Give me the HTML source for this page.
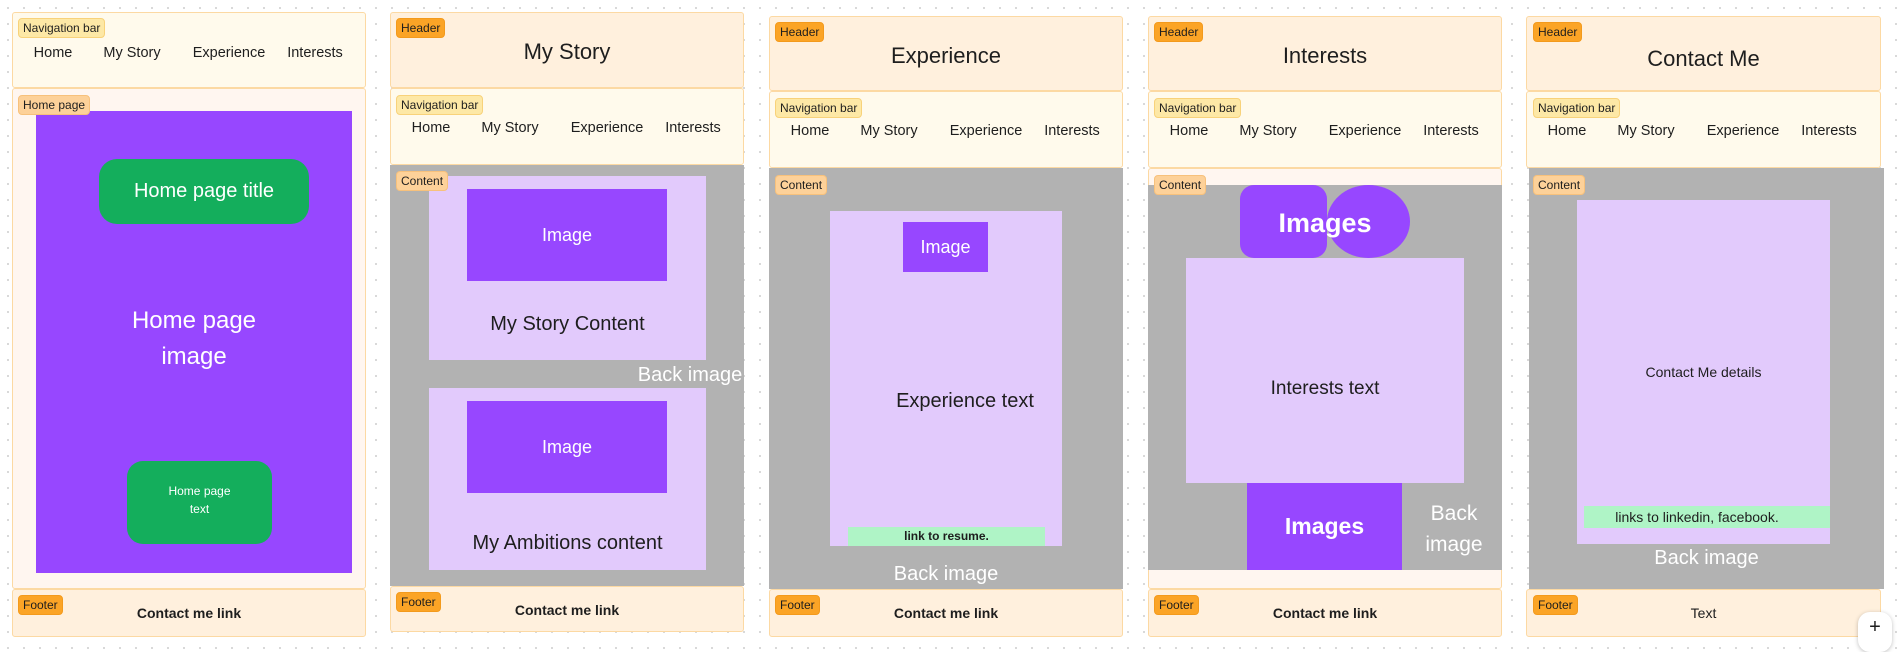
<!DOCTYPE html>
<html><head><meta charset="utf-8"><style>
*{box-sizing:border-box;margin:0;padding:0}
body{width:1899px;height:649px;position:relative;overflow:hidden;background:#fff;background-image:radial-gradient(#d6d6d6 1px,transparent 1.2px);background-size:16px 16px;font-family:"Liberation Sans",sans-serif;color:#1e1e1e}
div{position:absolute}
.sec{border:1px solid #fcd9a3;border-radius:3px}
.hdr{background:#fff0dd}
.nav{background:#fffaec}
.pg{background:#fff6f0}
.ftr{background:#fff0dd}
.tag{font-size:12px;padding:2px 4px;border-radius:4px;line-height:14px;white-space:nowrap;z-index:5}
.t1{background:#fde8a6;border:1px solid #f8d27a}
.t2{background:#fba426;border:1px solid #f39a1c}
.t3{background:#fdd199;border:1px solid #f7c17c}
.c{text-align:center;white-space:nowrap}
.gray{background:#b2b2b2}
.lav{background:#e2cafc}
.pur{background:#9747ff;color:#fff}
.grn{background:#14ae5c;color:#fff}
.mint{background:#aff4c6}
.navi{font-size:14.5px;top:0;transform:translateX(-50%);white-space:nowrap}
</style></head><body>

<!-- Column 1 -->
<div class="sec nav" style="left:12px;top:12px;width:354px;height:76px"></div>
<div class="tag t1" style="left:18px;top:18px">Navigation bar</div>
<div style="left:12px;top:45px;width:354px;height:20px">
 <div class="navi" style="left:41px">Home</div><div class="navi" style="left:120px">My Story</div><div class="navi" style="left:217px">Experience</div><div class="navi" style="left:303px">Interests</div>
</div>
<div class="sec pg" style="left:12px;top:88px;width:354px;height:501px"></div>
<div class="tag t3" style="left:18px;top:95px">Home page</div>
<div class="pur" style="left:36px;top:111px;width:316px;height:462px"></div>
<div class="grn c" style="left:99px;top:159px;width:210px;height:65px;border-radius:18px;font-size:20px;line-height:65px">Home page title</div>
<div class="c" style="left:36px;top:303px;width:316px;font-size:24px;line-height:36px;color:#fff">Home page<br>image</div>
<div class="grn c" style="left:127px;top:461px;width:145px;height:83px;border-radius:16px;font-size:12px;line-height:18px;padding-top:21px">Home page<br>text</div>
<div class="sec ftr" style="left:12px;top:589px;width:354px;height:48px"></div>
<div class="tag t2" style="left:18px;top:595px">Footer</div>
<div class="c" style="left:12px;top:605px;width:354px;font-size:14px;font-weight:bold">Contact me link</div>

<!-- Column 2 -->
<div class="sec hdr" style="left:390px;top:12px;width:354px;height:76px"></div>
<div class="tag t2" style="left:396px;top:18px">Header</div>
<div class="c" style="left:390px;top:39px;width:354px;font-size:22px">My Story</div>
<div class="sec nav" style="left:390px;top:88px;width:354px;height:77px"></div>
<div class="tag t1" style="left:396px;top:95px">Navigation bar</div>
<div style="left:390px;top:120px;width:354px;height:20px">
 <div class="navi" style="left:41px">Home</div><div class="navi" style="left:120px">My Story</div><div class="navi" style="left:217px">Experience</div><div class="navi" style="left:303px">Interests</div>
</div>
<div class="gray" style="left:390px;top:165px;width:354px;height:421px"></div>
<div class="lav" style="left:429px;top:176px;width:277px;height:184px"></div>
<div class="tag t3" style="left:396px;top:171px">Content</div>
<div class="pur c" style="left:467px;top:189px;width:200px;height:92px;font-size:18px;line-height:92px">Image</div>
<div class="c" style="left:429px;top:313px;width:277px;font-size:20px">My Story Content</div>
<div class="c" style="left:634px;top:364px;width:112px;font-size:20px;color:#fff">Back image</div>
<div class="lav" style="left:429px;top:388px;width:277px;height:182px"></div>
<div class="pur c" style="left:467px;top:401px;width:200px;height:92px;font-size:18px;line-height:92px">Image</div>
<div class="c" style="left:429px;top:532px;width:277px;font-size:20px">My Ambitions content</div>
<div class="sec ftr" style="left:390px;top:586px;width:354px;height:46px"></div>
<div class="tag t2" style="left:396px;top:592px">Footer</div>
<div class="c" style="left:390px;top:602px;width:354px;font-size:14px;font-weight:bold">Contact me link</div>

<!-- Column 3 -->
<div class="sec hdr" style="left:769px;top:16px;width:354px;height:75px"></div>
<div class="tag t2" style="left:775px;top:22px">Header</div>
<div class="c" style="left:769px;top:43px;width:354px;font-size:22px">Experience</div>
<div class="sec nav" style="left:769px;top:91px;width:354px;height:77px"></div>
<div class="tag t1" style="left:775px;top:98px">Navigation bar</div>
<div style="left:769px;top:123px;width:354px;height:20px">
 <div class="navi" style="left:41px">Home</div><div class="navi" style="left:120px">My Story</div><div class="navi" style="left:217px">Experience</div><div class="navi" style="left:303px">Interests</div>
</div>
<div class="gray" style="left:769px;top:168px;width:354px;height:421px"></div>
<div class="tag t3" style="left:775px;top:175px">Content</div>
<div class="lav" style="left:830px;top:211px;width:232px;height:335px"></div>
<div class="pur c" style="left:903px;top:222px;width:85px;height:50px;font-size:18px;line-height:50px">Image</div>
<div class="c" style="left:830px;top:390px;width:270px;font-size:20px">Experience text</div>
<div class="mint c" style="left:848px;top:527px;width:197px;height:19px;font-size:12px;font-weight:bold;line-height:19px">link to resume.</div>
<div class="c" style="left:769px;top:563px;width:354px;font-size:20px;color:#fff">Back image</div>
<div class="sec ftr" style="left:769px;top:589px;width:354px;height:48px"></div>
<div class="tag t2" style="left:775px;top:595px">Footer</div>
<div class="c" style="left:769px;top:605px;width:354px;font-size:14px;font-weight:bold">Contact me link</div>

<!-- Column 4 -->
<div class="sec hdr" style="left:1148px;top:16px;width:354px;height:75px"></div>
<div class="tag t2" style="left:1154px;top:22px">Header</div>
<div class="c" style="left:1148px;top:43px;width:354px;font-size:22px">Interests</div>
<div class="sec nav" style="left:1148px;top:91px;width:354px;height:77px"></div>
<div class="tag t1" style="left:1154px;top:98px">Navigation bar</div>
<div style="left:1148px;top:123px;width:354px;height:20px">
 <div class="navi" style="left:41px">Home</div><div class="navi" style="left:120px">My Story</div><div class="navi" style="left:217px">Experience</div><div class="navi" style="left:303px">Interests</div>
</div>
<div class="sec pg" style="left:1148px;top:168px;width:354px;height:421px"></div>
<div class="gray" style="left:1148px;top:185px;width:354px;height:385px"></div>
<div class="tag t3" style="left:1154px;top:175px">Content</div>
<div class="pur" style="left:1240px;top:185px;width:87px;height:73px;border-radius:14px"></div>
<div class="pur" style="left:1327px;top:185px;width:83px;height:73px;border-radius:50%"></div>
<div class="c" style="left:1240px;top:208px;width:170px;font-size:27px;font-weight:bold;color:#fff">Images</div>
<div class="lav" style="left:1186px;top:258px;width:278px;height:225px"></div>
<div class="c" style="left:1186px;top:378px;width:278px;font-size:19px">Interests text</div>
<div class="pur c" style="left:1247px;top:483px;width:155px;height:87px;font-size:23px;font-weight:bold;line-height:87px">Images</div>
<div class="c" style="left:1406px;top:498px;width:96px;font-size:21px;line-height:31px;color:#fff">Back<br>image</div>
<div class="sec ftr" style="left:1148px;top:589px;width:354px;height:48px"></div>
<div class="tag t2" style="left:1154px;top:595px">Footer</div>
<div class="c" style="left:1148px;top:605px;width:354px;font-size:14px;font-weight:bold">Contact me link</div>

<!-- Column 5 -->
<div class="sec hdr" style="left:1526px;top:16px;width:355px;height:75px"></div>
<div class="tag t2" style="left:1533px;top:22px">Header</div>
<div class="c" style="left:1526px;top:46px;width:355px;font-size:22px">Contact Me</div>
<div class="sec nav" style="left:1526px;top:91px;width:355px;height:77px"></div>
<div class="tag t1" style="left:1533px;top:98px">Navigation bar</div>
<div style="left:1526px;top:123px;width:355px;height:20px">
 <div class="navi" style="left:41px">Home</div><div class="navi" style="left:120px">My Story</div><div class="navi" style="left:217px">Experience</div><div class="navi" style="left:303px">Interests</div>
</div>
<div class="gray" style="left:1529px;top:168px;width:355px;height:421px"></div>
<div class="tag t3" style="left:1533px;top:175px">Content</div>
<div class="lav" style="left:1577px;top:200px;width:253px;height:344px"></div>
<div class="c" style="left:1577px;top:364px;width:253px;font-size:14px">Contact Me details</div>
<div class="mint c" style="left:1584px;top:506px;width:246px;height:22px;font-size:14px;line-height:22px;padding-right:20px">links to linkedin, facebook.</div>
<div class="c" style="left:1529px;top:547px;width:355px;font-size:20px;color:#fff">Back image</div>
<div class="sec ftr" style="left:1526px;top:589px;width:355px;height:48px"></div>
<div class="tag t2" style="left:1533px;top:595px">Footer</div>
<div class="c" style="left:1526px;top:605px;width:355px;font-size:14px">Text</div>

<div style="left:1858px;top:612px;width:34px;height:40px;border-radius:12px;background:#fff;box-shadow:0 1px 4px rgba(0,0,0,.25);text-align:center;font-size:20px;line-height:30px">+</div>
</body></html>
